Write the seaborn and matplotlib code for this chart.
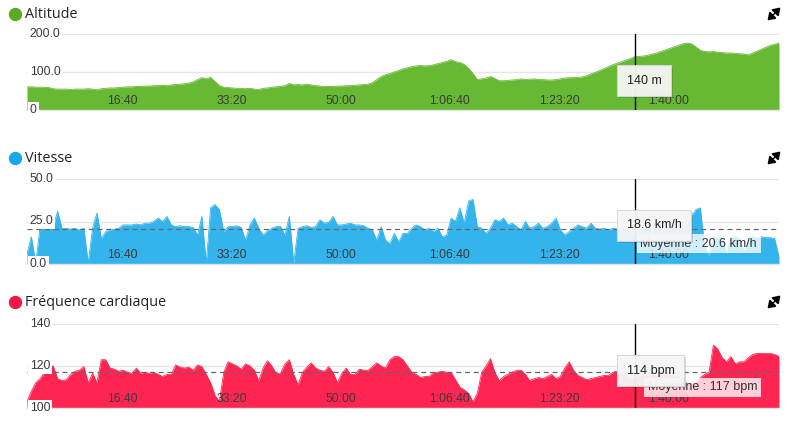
import numpy as np
import pandas as pd
import matplotlib
matplotlib.use("Agg")
import matplotlib.pyplot as plt
import matplotlib.patheffects as pe
from matplotlib.lines import Line2D
from matplotlib.patches import FancyArrowPatch
import seaborn as sns

# ---------------- data ----------------
T_START = 130          # seconds, first sample
T_STEP = 40            # seconds between samples

ALTITUDE = [
    61, 61, 60, 60, 60, 59, 56, 55, 55, 55,
    54, 55, 55, 55, 56, 55, 53, 56, 57, 58,
    58, 59, 60, 61, 61, 62, 62, 63, 63, 64,
    64, 65, 64, 66, 67, 68, 69, 71, 74, 80,
    85, 82, 86, 75, 64, 60, 59, 58, 57, 57,
    56, 57, 55, 54, 57, 58, 60, 61, 62, 64,
    70, 66, 67, 66, 68, 66, 64, 63, 62, 62,
    62, 63, 63, 64, 64, 65, 66, 67, 68, 72,
    80, 88, 93, 96, 100, 104, 108, 111, 114, 116,
    117, 116, 117, 119, 122, 125, 128, 132, 127, 125,
    120, 110, 96, 80, 82, 84, 88, 83, 77, 77,
    78, 79, 80, 82, 80, 81, 82, 80, 80, 79,
    79, 80, 82, 84, 85, 85, 86, 87, 90, 95,
    99, 104, 109, 114, 119, 123, 127, 131, 135, 140,
    141, 142, 144, 147, 150, 154, 158, 162, 166, 170,
    174, 176, 174, 166, 157, 154, 153, 154, 152, 151,
    150, 150, 149, 148, 147, 145, 150, 155, 160, 165,
    170, 173, 176,
]

SPEED = [
    6, 16, 0.5, 22, 22, 21.5, 22, 31, 21, 21,
    20.5, 21, 20, 21, 0.5, 21, 30, 15, 19, 20,
    20.5, 21, 23, 23, 23, 23.5, 23, 24, 24, 25,
    27, 25, 28, 23, 22, 22.5, 22, 22, 21.5, 17,
    28, 0.5, 33, 35, 32, 19, 22, 22, 22.5, 21.5,
    14, 23, 27, 21, 17, 19.5, 21, 22, 22, 17,
    28, 0.5, 21, 22, 22.5, 21.5, 22, 26, 24, 24.5,
    28, 23, 23, 23.5, 24, 23, 23, 22.5, 21, 20,
    14, 22, 14, 12, 18, 13, 18, 18, 21, 23,
    22, 20, 21, 19, 21, 16, 17, 27, 25, 33,
    24, 37, 38, 22, 21, 18, 21, 26, 25, 27,
    23, 24, 22, 20, 25, 21, 22, 24, 21, 22,
    24, 27, 20, 17, 19, 21, 23, 22, 21, 24,
    21, 20.5, 21, 20, 21, 20.5, 20, 19.5, 19, 18.6,
    19.5, 20, 21, 20, 21, 20, 21, 22, 21, 22,
    24, 22, 28, 32, 33, 10, 5, 16, 15, 16,
    6, 15.5, 16, 15, 7, 15, 16, 15, 16, 15.5,
    15.5, 15, 4,
]

HEART_RATE = [
    103, 108, 112, 114, 117, 120, 120, 114, 113, 113.5,
    116, 117.5, 118, 119.7, 112, 116.5, 112, 123, 123, 119,
    118.5, 117.5, 118, 117, 116.5, 119, 116.5, 117, 116.5, 117,
    116, 115, 116, 116, 120.5, 119.5, 119, 119.5, 118, 120.5,
    119.7, 116, 112, 106, 103, 117, 122, 121, 120, 118.5,
    121, 120, 118, 113, 119, 122.5, 120, 116.5, 116.5, 121,
    123, 116, 111, 117, 119.5, 121.5, 119, 118, 117.5, 119.7,
    117, 112, 116.5, 119, 116, 116, 118.5, 118, 118, 119.7,
    121.5, 120, 119, 123, 124.5, 124.5, 123, 120, 117, 116,
    114.5, 115, 115, 117, 117, 117.5, 117, 117, 113.5, 110,
    108.6, 107, 103, 107, 117, 120, 123.5, 117, 113, 115,
    116, 117, 118, 118, 116, 113, 114, 114.5, 114, 115,
    116, 114, 115, 119, 122, 118, 115.5, 114.5, 113.5, 114,
    114.5, 115, 115.5, 115.5, 117, 117.5, 116, 115, 114.5, 114,
    115, 116, 115, 116, 115, 116, 117, 116, 115, 115,
    113, 112, 111.5, 112, 114.5, 116, 117, 130, 128, 124,
    122, 124.5, 121, 122, 122, 124, 125.5, 126, 126, 126,
    126, 125.5, 124.5,
]

TICK_SECONDS = [1000, 2000, 3000, 4000, 5000, 6000]
TICK_LABELS = ["16:40", "33:20", "50:00", "1:06:40", "1:23:20", "1:40:00"]

TITLES = ["Altitude", "Vitesse", "Fréquence cardiaque"]
Y_TICKS = [[0, 100, 200], [0, 25, 50], [100, 120, 140]]
Y_TICK_LABELS = [["0", "100.0", "200.0"], ["0.0", "25.0", "50.0"], ["100", "120", "140"]]
AVERAGES = [None, 20.6, 117]
AVG_LABELS = [None, "Moyenne : 20.6 km/h", "Moyenne : 117 bpm"]
SELECTED = 139  # sample under the crosshair

time_s = T_START + T_STEP * np.arange(len(ALTITUDE))
df = pd.DataFrame({"t": time_s, "alt": ALTITUDE, "spd": SPEED, "hr": HEART_RATE})

# ---------------- style ----------------
sns.set_theme(style="white")
plt.rcParams["font.family"] = ["Liberation Sans", "DejaVu Sans"]

W, H = 791, 428
fig = plt.figure(figsize=(W / 100, H / 100), dpi=100)
fig.patch.set_facecolor("white")


def fx(x):
    return x / W


def fy(y):
    return 1 - y / H


FILL = ["#67b934", "#34b4ec", "#ff2552"]
DOT = ["#5aab22", "#17a8ec", "#ef1745"]
COLS = ["alt", "spd", "hr"]
AX_PIX = [(34, 110), (179, 264), (324, 408)]
TITLE_Y = [14, 158, 302]
TIP_TEXT = [
    f"{ALTITUDE[SELECTED]:.0f} m",
    f"{SPEED[SELECTED]:.1f} km/h",
    f"{HEART_RATE[SELECTED]:.0f} bpm",
]
TIP_OFFSET = [(-8, -24), (-8, 7), (-8, 8)]

left, right = 27, 779
for i in range(3):
    top, bot = AX_PIX[i]
    ax = fig.add_axes([fx(left), fy(bot), (right - left) / W, (bot - top) / H])
    col = COLS[i]
    y0 = Y_TICKS[i][0]
    ax.set_xlim(time_s[0], time_s[-1])
    ax.set_ylim(Y_TICKS[i][0], Y_TICKS[i][-1])

    for yv in Y_TICKS[i][1:]:
        ax.axhline(yv, color="#e6e6e6", lw=1, zorder=0.5)

    ax.fill_between(df["t"], df[col], y0, color=FILL[i], lw=0, zorder=1)
    sns.lineplot(data=df, x="t", y=col, ax=ax, color=FILL[i], lw=0.6, zorder=1.1)

    ax.set_xlabel("")
    ax.set_ylabel("")
    for s in ["top", "left", "right"]:
        ax.spines[s].set_visible(False)
    ax.spines["bottom"].set_color("#e3e3e3")
    ax.spines["bottom"].set_linewidth(1)
    ax.set_axisbelow(False)

    ax.set_xticks(TICK_SECONDS)
    ax.set_xticklabels(TICK_LABELS)
    ax.tick_params(axis="x", length=0, pad=-6.2, labelsize=8.8, labelcolor="#3a3a3a")
    plt.setp(ax.get_xticklabels(), va="center")

    ax.set_yticks(Y_TICKS[i])
    ax.set_yticklabels(Y_TICK_LABELS[i])
    ax.tick_params(axis="y", length=0, pad=-2.0, labelsize=8.8, labelcolor="#3a3a3a")
    for lbl in ax.get_yticklabels():
        lbl.set_ha("left")
        lbl.set_va("center")
        lbl.set_bbox(dict(facecolor="white", edgecolor="none", pad=1.4))

    if AVERAGES[i] is not None:
        ax.axhline(AVERAGES[i], color="#666666", lw=0.9, dashes=(4, 3), zorder=2)
        ax.annotate(AVG_LABELS[i], xy=(1, AVERAGES[i]), xycoords=("axes fraction", "data"),
                    xytext=(-22, -15), textcoords="offset pixels", ha="right", va="center",
                    fontsize=9, color="#333333", zorder=3,
                    bbox=dict(boxstyle="square,pad=0.28", facecolor="white", alpha=0.78,
                              edgecolor="none"))

    tsel = time_s[SELECTED]
    ax.axvline(tsel, color="black", lw=1, zorder=4)

    ann = ax.annotate(TIP_TEXT[i], xy=(tsel, df[col].iloc[SELECTED]), xycoords="data",
                      xytext=TIP_OFFSET[i], textcoords="offset pixels",
                      ha="left", va="center", fontsize=9, color="#222222", zorder=6,
                      bbox=dict(boxstyle="square,pad=0.75", facecolor="#f7f7f7",
                                edgecolor="#d6d6d6", lw=0.8, alpha=0.95))
    ann.get_bbox_patch().set_path_effects(
        [pe.SimplePatchShadow(offset=(1.5, -1.5), shadow_rgbFace="black", alpha=0.15), pe.Normal()])

    fig.add_artist(Line2D([fx(15)], [fy(TITLE_Y[i])], marker="o", markersize=8.6,
                          color=DOT[i], transform=fig.transFigure))
    fig.text(fx(25), fy(TITLE_Y[i]), TITLES[i], ha="left", va="center", fontsize=10.4,
             color="#222222", family=["Open Sans", "DejaVu Sans"])

    ty = TITLE_Y[i]
    for (a, b) in [((774.5, ty - 0.5), (780.5, ty - 6.5)), ((773.5, ty + 0.5), (767.5, ty + 6.5))]:
        fig.add_artist(FancyArrowPatch((fx(a[0]), fy(a[1])), (fx(b[0]), fy(b[1])),
                                       transform=fig.transFigure,
                                       arrowstyle="-|>,head_length=0.45,head_width=0.3",
                                       shrinkA=0, shrinkB=0,
                                       mutation_scale=9, lw=1.3, color="black"))

fig.savefig("out.png", dpi=100, facecolor="white")
